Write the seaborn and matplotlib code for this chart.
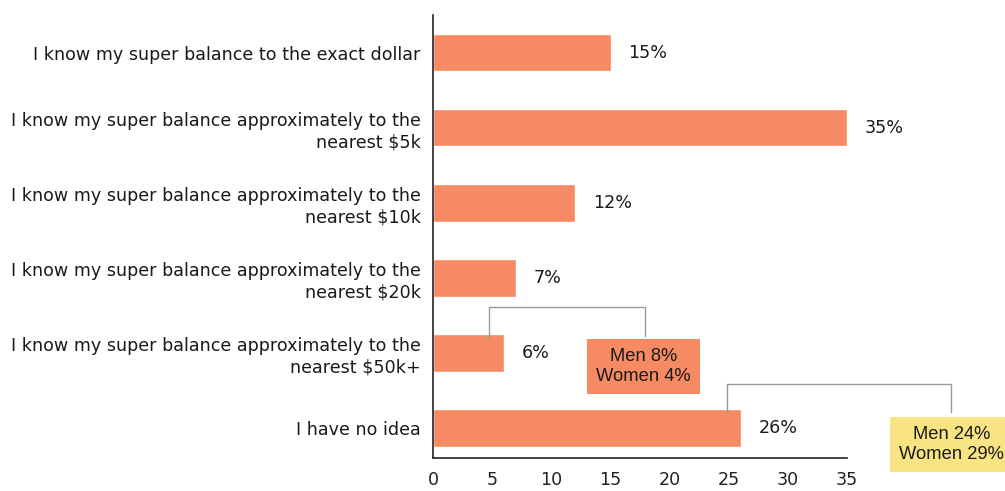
import numpy as np
import matplotlib
matplotlib.use('Agg')
import matplotlib.pyplot as plt
import pandas as pd
import seaborn as sns

# データ
categories = [
    'I know my super balance to the exact dollar',
    'I know my super balance approximately to the\nnearest $5k',
    'I know my super balance approximately to the\nnearest $10k',
    'I know my super balance approximately to the\nnearest $20k',
    'I know my super balance approximately to the\nnearest $50k+',
    'I have no idea',
]
values = [15, 35, 12, 7, 6, 26]
x_ticks = [0, 5, 10, 15, 20, 25, 30, 35]

# 男女別の注記
split_50k = 'Men 8%\nWomen 4%'
split_noidea = 'Men 24%\nWomen 29%'

df = pd.DataFrame({'answer': categories, 'pct': values})

sns.set_style('white')
plt.rcParams['font.family'] = ['DejaVu Sans']

bar_color = '#F68A62'
box_yellow = '#F8E482'
text_color = '#1a1a1a'
fs = 12.6

fig = plt.figure(figsize=(10.05, 4.91), dpi=100)
ax = fig.add_axes([0.431, 0.067, 0.412, 0.9025])

sns.barplot(data=df, x='pct', y='answer', color=bar_color, width=0.5,
            saturation=1, ax=ax, orient='h')

ax.set_xlim(0, 35)
ax.set_ylim(5.4, -0.5)
ax.set_xlabel('')
ax.set_ylabel('')

# 軸
sns.despine(ax=ax)
for s in ['left', 'bottom']:
    ax.spines[s].set_color('#222222')
    ax.spines[s].set_linewidth(1.2)

ax.set_xticks(x_ticks)
ax.tick_params(axis='x', direction='in', length=8, width=1.2,
               labelsize=fs, pad=9, colors='#222222')
ax.set_yticks(range(len(categories)))
ax.set_yticklabels(categories, fontsize=fs, color=text_color,
                   linespacing=1.25)
ax.tick_params(axis='y', which='major', length=0, pad=9)
ax.set_yticks(np.arange(len(categories) - 1) - 0.5, minor=True)
ax.tick_params(axis='y', which='minor', direction='in', length=8, width=1.2,
               color='#222222')

# 値ラベル
for i, v in enumerate(values):
    ax.text(v + 1.5, i, f'{v}%', va='center', ha='left', fontsize=fs,
            color=text_color)

# 注記のかっこ線
line_kw = dict(color='#9a9a9a', linewidth=1, clip_on=False)
ax.plot([4.75, 4.75, 17.9, 17.9], [3.8, 3.39, 3.39, 3.78], **line_kw)
ax.plot([24.8, 24.8, 43.8, 43.8], [4.78, 4.41, 4.41, 4.78], **line_kw)

# 注記ボックス
box_font = ['Liberation Sans', 'DejaVu Sans']
ax.text(17.8, 4.18, split_50k, ha='center', va='center', fontsize=13.2,
        family=box_font, color=text_color, linespacing=1.2, clip_on=False,
        bbox=dict(boxstyle='square,pad=0.5', facecolor=bar_color,
                  edgecolor='none'))
ax.text(43.8, 5.22, split_noidea, ha='center', va='center', fontsize=13.2,
        family=box_font, color=text_color, linespacing=1.2, clip_on=False,
        bbox=dict(boxstyle='square,pad=0.48', facecolor=box_yellow,
                  edgecolor='none'))

plt.savefig('out.png', dpi=100)
